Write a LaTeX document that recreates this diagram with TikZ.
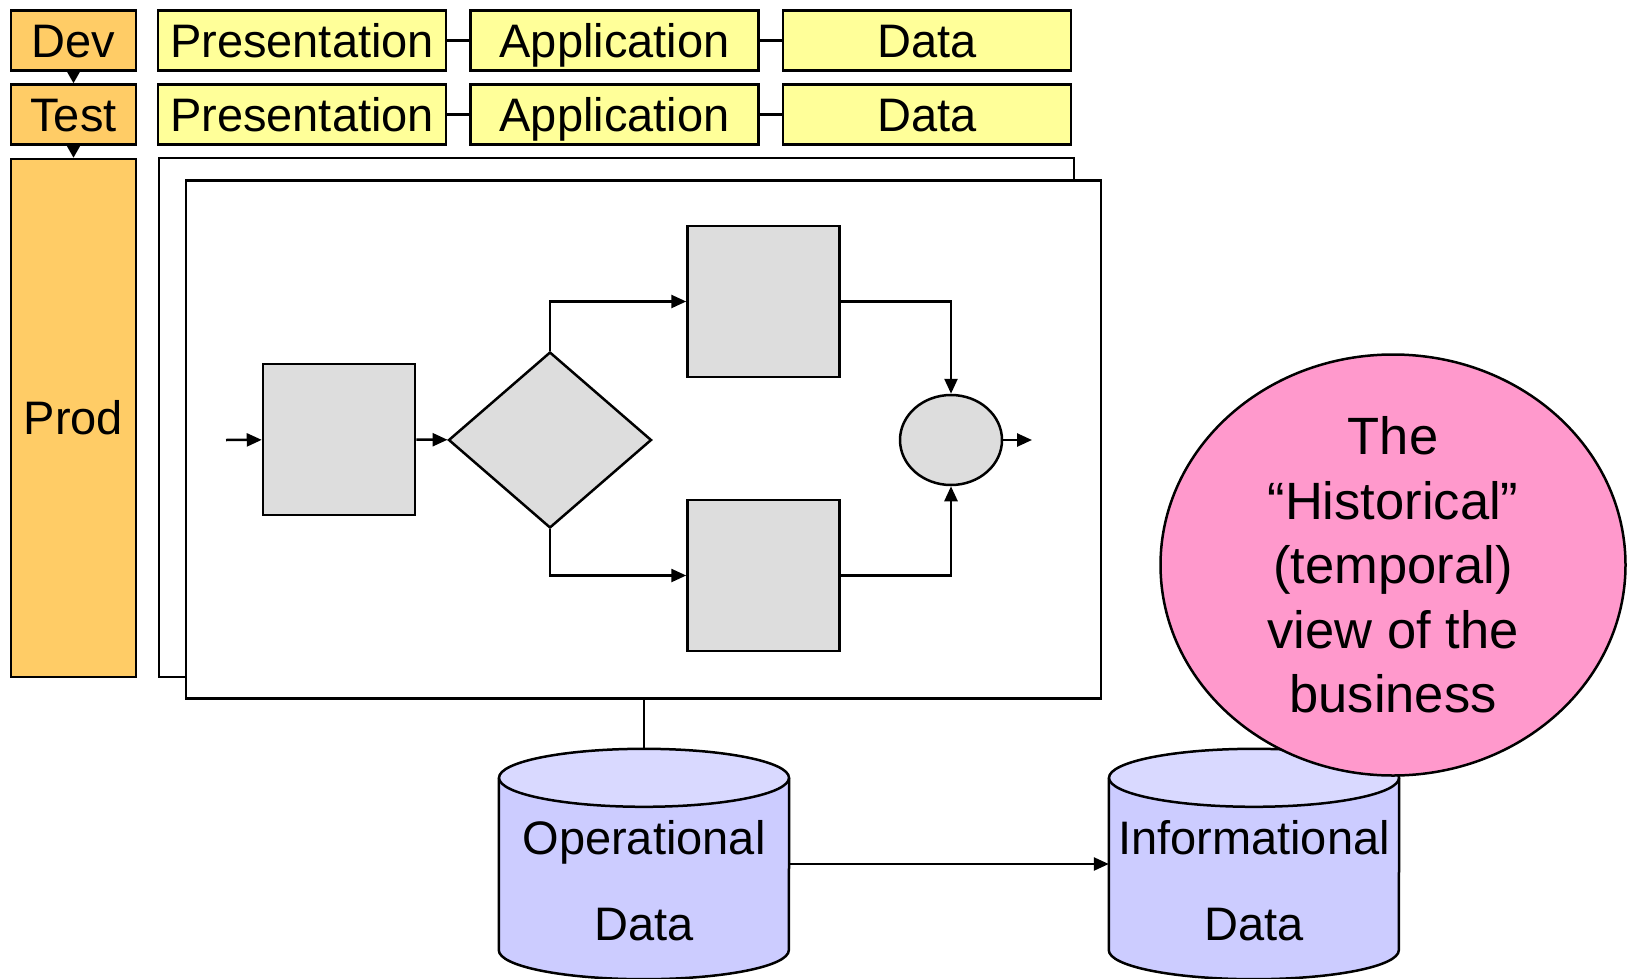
\documentclass[tikz,border=0pt]{standalone}
\usepackage{fontspec}
\setmainfont{Liberation Sans}
\usetikzlibrary{shapes.geometric,arrows.meta}

\definecolor{envorange}{HTML}{FFCC66}
\definecolor{layeryellow}{HTML}{FFFF99}
\definecolor{stepgray}{HTML}{DDDDDD}
\definecolor{viewpink}{HTML}{FF99CC}
\definecolor{dbbody}{HTML}{CCCCFF}
\definecolor{dbtop}{HTML}{D9D9FF}

\begin{document}
\begin{tikzpicture}[x=1pt, y=-1pt,
            env/.style={rectangle, draw, line width=2.5pt, minimum width=125pt,
            minimum height=60pt, inner sep=0pt, fill=envorange,
            text height=34pt, text depth=0pt, font=\fontsize{47}{56}\selectfont},
            layer/.style={rectangle, draw, line width=2.5pt, minimum width=288pt,
            minimum height=60pt, inner sep=0pt, fill=layeryellow,
            text height=34pt, text depth=0pt, font=\fontsize{47}{56}\selectfont},
            frame/.style={rectangle, draw, line width=2.5pt, fill=white,
            minimum width=915pt, minimum height=518pt, inner sep=0pt},
            procbox/.style={rectangle, draw, line width=2.5pt, fill=stepgray,
            minimum width=152pt, minimum height=151pt, inner sep=0pt},
            flow/.style={-{Triangle[length=15pt,width=13pt]}, line width=2.5pt},
            dbbox/.style={rectangle, minimum width=290pt, minimum height=230pt, inner sep=0pt},
            dbtext/.style={font=\fontsize{47}{56}\selectfont, inner sep=0pt,
            text height=34pt, text depth=0pt},
        ]
            \useasboundingbox (0,0) rectangle (1627,979);

            %% Umgebungen
            \node[env] (dev)  at (73.5,40.5)  {Dev};
            \node[env] (test) at (73.5,114.5) {Test};
            \node[env, minimum height=518pt, text height=, text depth=] (prod) at (73.5,418) {Prod};
            \draw[-{Triangle[length=12pt,width=13pt]}, line width=2pt] (dev) -- (test);
            \draw[-{Triangle[length=12pt,width=13pt]}, line width=2pt] (test) -- (prod);

            %% Schichten
            \foreach \row/\y in {1/40.5, 2/114.5} {
                \node[layer] (pres\row) at (302,\y)   {Presentation};
                \node[layer] (appl\row) at (614.5,\y) {Application};
                \node[layer] (data\row) at (927,\y)   {Data};
                \draw[line width=2.5pt] (pres\row) -- (appl\row);
                \draw[line width=2.5pt] (appl\row) -- (data\row);
            }

            %% Prozess
            \node[frame, minimum height=519pt] (back) at (616.5,417.5) {};
            \node[frame] (front) at (643.5,439.5) {};

            \coordinate (in)  at (226,440);
            \coordinate (out) at (1032,440);
            \node[procbox] (act)   at (339,439.5)   {};
            \node[diamond, draw, line width=2.5pt, fill=stepgray, inner sep=0pt,
                  minimum width=203pt, minimum height=176pt, aspect=1.15] (dec) at (550,440) {};
            \node[procbox] (upper) at (763.5,301.5) {};
            \node[procbox] (lower) at (763.5,575.5) {};
            \node[ellipse, draw, line width=2.5pt, fill=stepgray, inner sep=0pt,
                  minimum width=102pt, minimum height=90pt] (join) at (951,440) {};

            \draw[flow] (in) -- (act);
            \draw[flow] (act) -- (dec);
            \draw[flow] (dec.north) |- (upper.west);
            \draw[flow] (dec.south) |- (lower.west);
            \draw[flow] (upper.east) -| (join.north);
            \draw[flow] (lower.east) -| (join.south);
            \draw[flow] (join) -- (out);

            %% Daten
            \node[dbbox] (opdb)   at (644,864)  {};
            \node[dbbox] (infodb) at (1254,864) {};
            \foreach \db in {opdb, infodb} {
                \draw[line width=2.5pt, fill=dbbody]
                    ([yshift=-29pt]\db.north west) -- ([yshift=29pt]\db.south west)
                    arc[start angle=180, end angle=360, x radius=145pt, y radius=29pt]
                    -- ([yshift=-29pt]\db.north east);
                \draw[line width=2.5pt, fill=dbtop]
                    ([yshift=-29pt]\db.north) ellipse [x radius=145pt, y radius=29pt];
            }
            \node[dbtext] (optop) at (644,837)  {Operational};
            \node[dbtext] (opbot) at (644,923)  {Data};
            \node[dbtext] (intop) at (1254,837) {Informational};
            \node[dbtext] (inbot) at (1254,923) {Data};
            \draw[line width=2.5pt] (front.south -| opdb) -- (opdb.north);
            \draw[flow] (opdb.east) -- (infodb.west);

            %% Sicht
            \node[ellipse, draw, line width=2.5pt, fill=viewpink, inner sep=0pt,
                  minimum width=465pt, minimum height=421pt, align=center,
                  font=\fontsize{52.5}{64.5}\selectfont] (view) at (1393,565)
                  {The\\“Historical”\\(temporal)\\view of the\\business};

        \end{tikzpicture}
\end{document}
